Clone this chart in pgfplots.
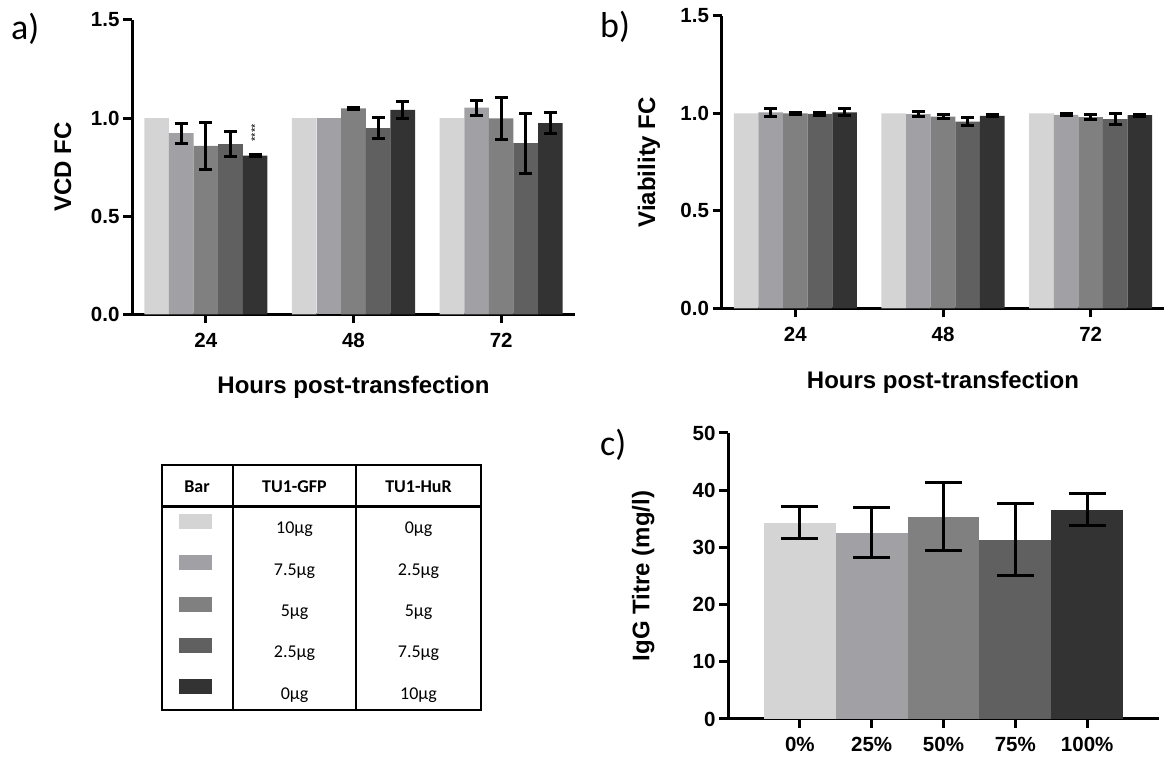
\documentclass[border=0pt]{standalone}
\usepackage{fontspec}
\setmainfont{Liberation Sans}
\newfontfamily\calfont{Carlito}
\usepackage{pgfplots}
\pgfplotsset{compat=1.18}
\definecolor{g1}{HTML}{D4D4D4}
\definecolor{g2}{HTML}{A1A0A4}
\definecolor{g3}{HTML}{808080}
\definecolor{g4}{HTML}{606060}
\definecolor{g5}{HTML}{333333}
\newcommand\lblfont{\fontsize{24}{28}\selectfont\bfseries}
\pgfplotsset{
  prism/.style={
    scale only axis,
    axis lines=left,
    axis line style={-, line width=3pt, black},
    tick style={line width=3pt, black},
    major tick length=9pt,
    tick align=outside,
    ymin=0,
    tick label style={font=\fontsize{20.5}{24}\selectfont\bfseries},
    xticklabel style={yshift=-6pt},
    ybar,
    bar width=0.16667,
    clip=false,
  },
  eb/.style={error bars/.cd, y dir=both, y explicit,
    error bar style={line width=3pt, black},
    error mark options={rotate=90, line width=3pt, black, mark size=6.5pt}},
  ebc/.style={error bars/.cd, y dir=both, y explicit,
    error bar style={line width=3pt, black},
    error mark options={rotate=90, line width=3pt, black, mark size=18.5pt}},
}
\begin{document}
\begin{tikzpicture}
\useasboundingbox (0,0) rectangle (1164pt,757pt);
% ---------- panel a
\begin{axis}[prism, at={(132pt,442.7pt)}, anchor=south west,
  width=443pt, height=294.3pt, xmin=-0.5, xmax=2.5, ymax=1.5,
  xtick={0,1,2}, xticklabels={24,48,72},
  ytick={0,0.5,1,1.5}, yticklabels={0.0,0.5,1.0,1.5},
  ylabel={VCD FC}, xlabel={Hours post-transfection},
  every axis y label/.style={at={(axis description cs:-0.156,0.5)}, rotate=90, anchor=center, font=\lblfont},
  every axis x label/.style={at={(axis description cs:0.5,0)}, anchor=base, yshift=-79pt, font=\lblfont},
]
\addplot[fill=g1, draw=none, bar shift=-0.33333] coordinates {(0,1.0) (1,1.0) (2,1.0)};
\addplot[fill=g2, draw=none, bar shift=-0.16667, eb] coordinates {(0,0.923) +- (0,0.05) (2,1.053) +- (0,0.038)};
\addplot[fill=g2, draw=none, bar shift=-0.16667] coordinates {(1,1.003)};
\addplot[fill=g3, draw=none, bar shift=0, eb] coordinates {(0,0.859) +- (0,0.12) (1,1.049) +- (0,0.005) (2,0.998) +- (0,0.107)};
\addplot[fill=g4, draw=none, bar shift=0.16667, eb] coordinates {(0,0.867) +- (0,0.064) (1,0.949) +- (0,0.053) (2,0.872) +- (0,0.153)};
\addplot[fill=g5, draw=none, bar shift=0.33333, eb] coordinates {(0,0.809) +- (0,0.005) (1,1.042) +- (0,0.045) (2,0.974) +- (0,0.053)};
\node[rotate=90, font=\fontsize{11}{11}\selectfont, inner sep=0] at (axis cs:0.33333,0.925) {****};
\end{axis}
% ---------- panel b
\begin{axis}[prism, at={(721.5pt,448.7pt)}, anchor=south west,
  width=443pt, height=292.3pt, xmin=-0.5, xmax=2.5, ymax=1.5,
  xtick={0,1,2}, xticklabels={24,48,72},
  ytick={0,0.5,1,1.5}, yticklabels={0.0,0.5,1.0,1.5},
  ylabel={Viability FC}, xlabel={Hours post-transfection},
  every axis y label/.style={at={(axis description cs:-0.1637,0.5)}, rotate=90, anchor=center, font=\lblfont},
  every axis x label/.style={at={(axis description cs:0.5,0)}, anchor=base, yshift=-80pt, font=\lblfont},
]
\addplot[fill=g1, draw=none, bar shift=-0.33333] coordinates {(0,1.0) (1,1.0) (2,1.0)};
\addplot[fill=g2, draw=none, bar shift=-0.16667, eb] coordinates {(0,1.005) +- (0,0.019) (1,0.996) +- (0,0.013) (2,0.993) +- (0,0.005)};
\addplot[fill=g3, draw=none, bar shift=0, eb] coordinates {(0,1.0) +- (0,0.005) (1,0.984) +- (0,0.008) (2,0.981) +- (0,0.013)};
\addplot[fill=g4, draw=none, bar shift=0.16667, eb] coordinates {(0,0.998) +- (0,0.008) (1,0.958) +- (0,0.02) (2,0.971) +- (0,0.027)};
\addplot[fill=g5, draw=none, bar shift=0.33333, eb] coordinates {(0,1.005) +- (0,0.018) (1,0.988) +- (0,0.006) (2,0.991) +- (0,0.005)};
\end{axis}
% ---------- panel c
\begin{axis}[prism, at={(728pt,38pt)}, anchor=south west,
  width=431pt, height=286pt, xmin=-1, xmax=5, ymax=50,
  bar width=1,
  xtick={0,1,2,3,4}, xticklabels={0\%,25\%,50\%,75\%,100\%},
  ytick={0,10,20,30,40,50}, yticklabels={0,10,20,30,40,50},
  ylabel={IgG Titre (mg/l)},
  every axis y label/.style={at={(axis description cs:-0.197,0.5)}, rotate=90, anchor=center, font=\lblfont},
]
\addplot[fill=g1, draw=none, bar shift=0, ebc] coordinates {(0,34.35) +- (0,2.75)};
\addplot[fill=g2, draw=none, bar shift=0, ebc] coordinates {(1,32.55) +- (0,4.35)};
\addplot[fill=g3, draw=none, bar shift=0, ebc] coordinates {(2,35.4) +- (0,5.9)};
\addplot[fill=g4, draw=none, bar shift=0, ebc] coordinates {(3,31.3) +- (0,6.3)};
\addplot[fill=g5, draw=none, bar shift=0, ebc] coordinates {(4,36.6) +- (0,2.8)};
\end{axis}
% ---------- labels and table (pixel coordinates from top-left)
\begin{scope}[shift={(0pt,757pt)}, x=1pt, y=-1pt]
\tikzset{pl/.style={anchor=base west, inner sep=0, font=\calfont\fontsize{36}{40}\selectfont}}
\node[pl] at (11,40) {a)};
\node[pl] at (600,38) {b)};
\node[pl] at (600,456) {c)};
\tikzset{th/.style={anchor=base, inner sep=0, font=\calfont\bfseries\fontsize{18}{20}\selectfont},
         td/.style={anchor=base, inner sep=0, font=\calfont\fontsize{18}{20}\selectfont}}
\draw[line width=2pt] (161.5,465) rectangle (481,710.5);
\draw[line width=2pt] (233.3,465) -- (233.3,710.5);
\draw[line width=2pt] (356,465) -- (356,710.5);
\draw[line width=3pt] (161.5,506.5) -- (481,506.5);
\node[th] at (197,493) {Bar};
\node[th] at (294.5,493) {TU1-GFP};
\node[th] at (418.5,493) {TU1-HuR};
\fill[g1] (179,514) rectangle (212,529);
\fill[g2] (179,555.3) rectangle (212,570.3);
\fill[g3] (179,596.6) rectangle (212,611.6);
\fill[g4] (179,637.9) rectangle (212,652.9);
\fill[g5] (179,679.2) rectangle (212,694.2);
\node[td] at (294.5,534) {10µg};   \node[td] at (418.5,534) {0µg};
\node[td] at (294.5,575.3) {7.5µg}; \node[td] at (418.5,575.3) {2.5µg};
\node[td] at (294.5,616.6) {5µg};  \node[td] at (418.5,616.6) {5µg};
\node[td] at (294.5,657.9) {2.5µg}; \node[td] at (418.5,657.9) {7.5µg};
\node[td] at (294.5,699.2) {0µg};  \node[td] at (418.5,699.2) {10µg};
\end{scope}
\end{tikzpicture}
\end{document}
